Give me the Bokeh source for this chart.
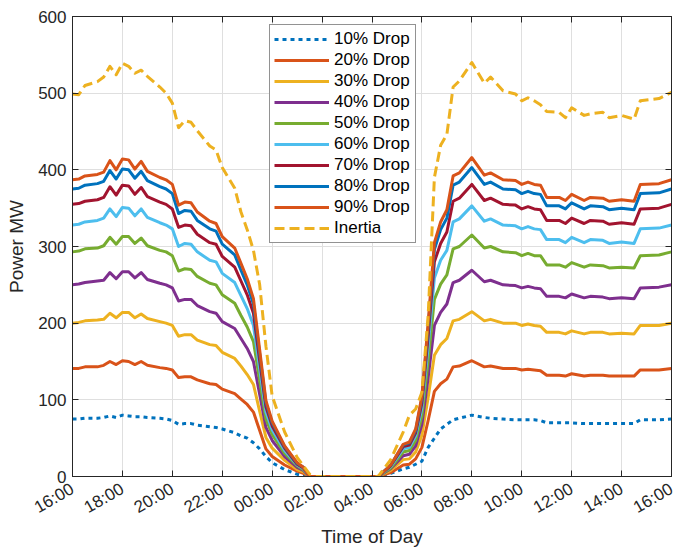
import math
from bokeh.plotting import figure
from bokeh.models import Range1d, FixedTicker, LinearAxis, Legend, LegendItem
from bokeh.embed import file_html
from bokeh.resources import INLINE

# hours since 16:00
hours = [0, 0.25, 0.5, 1.0, 1.25, 1.5, 1.75, 2.0, 2.25, 2.5,
         2.75, 3.0, 3.5, 3.75, 4.0, 4.25, 4.5, 4.75, 5.0, 5.5,
         5.75, 6.0, 6.5, 6.75, 7.0, 7.25, 7.5, 7.75, 8.0, 8.5,
         9.0, 9.25, 9.5, 9.75, 12.25,
         12.75, 13.25, 13.5, 13.75, 14.0, 14.25, 14.5, 14.75, 15.0, 15.25,
         15.5, 16.0, 16.5, 16.75, 17.25, 17.75, 18.0, 18.25, 18.5, 18.75,
         19.0, 19.5, 19.75, 20.0, 20.5, 20.75, 21.25, 21.5, 22.0, 22.5,
         22.75, 23.5, 24.0]

tick_hours = [0, 2, 4, 6, 8, 10, 12, 14, 16, 18, 20, 22, 24]
tick_labels = ["16:00", "18:00", "20:00", "22:00", "00:00", "02:00", "04:00",
               "06:00", "08:00", "10:00", "12:00", "14:00", "16:00"]
y_ticks = [0, 100, 200, 300, 400, 500, 600]

drop10 = [75, 75, 76, 76, 77, 79, 77, 80, 79, 78,
          78, 77, 76, 75, 73, 68, 69, 69, 67, 65,
          64, 62, 57, 53, 50, 44, 36, 26, 18, 9,
          3, 1, 0, 0, 0,
          4, 10, 12, 16, 20, 38, 50, 62, 68, 74,
          76, 80, 77, 76, 75, 74, 74, 74, 74, 73,
          70, 70, 70, 70, 69, 69, 69, 69, 69, 69,
          74, 74, 75]
drop20 = [141, 141, 143, 143, 145, 150, 146, 151, 150, 146,
          150, 145, 142, 141, 139, 129, 130, 130, 126, 121,
          120, 114, 108, 101, 94, 84, 60, 36, 26, 15,
          7, 4, 0, 0, 0,
          5, 15, 16, 23, 38, 73, 111, 121, 127, 143,
          144, 151, 143, 144, 141, 141, 139, 140, 139, 138,
          132, 132, 131, 134, 131, 132, 132, 131, 131, 131,
          139, 139, 141]
drop30 = [200, 201, 203, 204, 205, 213, 207, 214, 214, 207,
          212, 206, 202, 200, 197, 183, 185, 185, 178, 172,
          171, 162, 154, 144, 133, 120, 85, 51, 37, 21,
          9, 6, 0, 0, 0,
          8, 22, 23, 32, 54, 103, 158, 172, 180, 203,
          205, 215, 203, 205, 200, 200, 197, 199, 197, 196,
          188, 188, 186, 190, 186, 188, 188, 186, 187, 186,
          197, 197, 200]
drop40 = [250, 251, 253, 255, 256, 266, 258, 267, 267, 259,
          266, 257, 252, 250, 246, 229, 231, 231, 223, 215,
          213, 202, 193, 180, 167, 150, 107, 64, 47, 26,
          12, 8, 0, 0, 0,
          10, 27, 29, 40, 68, 129, 197, 214, 225, 253,
          256, 269, 254, 256, 250, 249, 246, 248, 246, 245,
          235, 235, 233, 238, 233, 235, 234, 232, 233, 232,
          246, 247, 250]
drop50 = [293, 294, 297, 298, 301, 312, 303, 313, 313, 304,
          311, 301, 295, 293, 288, 268, 271, 270, 261, 252,
          250, 237, 226, 210, 195, 176, 125, 75, 55, 30,
          14, 9, 0, 0, 0,
          11, 32, 34, 47, 79, 151, 231, 251, 263, 297,
          300, 315, 298, 300, 293, 292, 288, 291, 288, 288,
          276, 276, 273, 279, 273, 276, 275, 272, 273, 272,
          288, 289, 293]
drop60 = [328, 329, 332, 334, 337, 349, 339, 351, 350, 340,
          349, 338, 331, 328, 323, 300, 304, 303, 293, 282,
          280, 265, 253, 236, 219, 197, 140, 84, 61, 34,
          15, 10, 0, 0, 0,
          13, 36, 38, 53, 89, 170, 259, 282, 295, 332,
          336, 353, 333, 336, 328, 327, 323, 326, 323, 322,
          309, 309, 305, 312, 305, 309, 308, 304, 306, 304,
          323, 324, 328]
drop70 = [355, 356, 359, 361, 364, 378, 367, 380, 379, 368,
          377, 365, 358, 355, 349, 325, 328, 327, 316, 305,
          303, 287, 273, 255, 237, 213, 151, 91, 66, 37,
          16, 11, 0, 0, 0,
          14, 39, 41, 57, 96, 183, 280, 304, 319, 359,
          363, 381, 360, 363, 355, 354, 349, 352, 349, 348,
          334, 334, 330, 337, 330, 334, 333, 329, 331, 329,
          349, 350, 355]
drop80 = [375, 376, 380, 382, 385, 399, 388, 401, 400, 389,
          398, 386, 378, 375, 369, 343, 347, 346, 334, 323,
          320, 303, 289, 269, 250, 225, 160, 96, 70, 39,
          17, 12, 0, 0, 0,
          15, 41, 44, 60, 102, 194, 296, 322, 337, 380,
          384, 403, 381, 384, 375, 374, 369, 372, 369, 368,
          353, 353, 349, 357, 349, 353, 352, 348, 350, 348,
          369, 370, 375]
drop90 = [387, 388, 392, 394, 397, 412, 400, 414, 413, 401,
          411, 398, 390, 387, 381, 354, 358, 357, 345, 333,
          330, 313, 298, 278, 258, 232, 165, 99, 72, 40,
          18, 12, 0, 0, 0,
          15, 42, 45, 62, 105, 200, 305, 332, 348, 392,
          396, 416, 393, 396, 387, 386, 381, 384, 381, 380,
          364, 364, 360, 368, 360, 364, 363, 359, 361, 359,
          381, 382, 387]
inertia = [499, 498, 510, 515, 521, 535, 524, 539, 535, 526,
           530, 522, 508, 500, 487, 455, 464, 462, 451, 431,
           426, 403, 376, 345, 322, 295, 250, 170, 105, 58,
           25, 14, 3, 0, 0,
           22, 58, 80, 88, 110, 210, 390, 432, 446, 508,
           516, 540, 513, 521, 503, 499, 490, 494, 490, 485,
           476, 475, 468, 481, 471, 473, 475, 468, 471, 466,
           490, 493, 501]

series_names = ["10% Drop", "20% Drop", "30% Drop", "40% Drop", "50% Drop",
                "60% Drop", "70% Drop", "80% Drop", "90% Drop", "Inertia"]
series_values = [drop10, drop20, drop30, drop40, drop50,
                 drop60, drop70, drop80, drop90, inertia]
colors = ["#0072BD", "#D95319", "#EDB120", "#7E2F8E", "#77AC30",
          "#4DBEEE", "#A2142F", "#0072BD", "#D95319", "#EDB120"]
dashes = ["4 4", "solid", "solid", "solid", "solid",
          "solid", "solid", "solid", "solid", "10 5"]

FONT = "Liberation Sans"
DARK = "#262626"

p = figure(width=679, height=550, output_backend="svg", toolbar_location=None,
           x_range=Range1d(0, 24), y_range=Range1d(0, 600),
           min_border_left=72, min_border_right=8, min_border_top=16,
           min_border_bottom=74)
p.background_fill_color = "white"
p.border_fill_color = "white"
p.outline_line_color = DARK
p.outline_line_width = 1
p.outline_line_alpha = 1

renderers = []
for vals, col, dash in zip(series_values, colors, dashes):
    r = p.line(hours, vals, line_color=col, line_width=3, line_dash=dash,
               line_join="round")
    renderers.append(r)

xt = FixedTicker(ticks=tick_hours)
yt = FixedTicker(ticks=y_ticks)

xa = p.xaxis[0]
xa.ticker = xt
xa.major_label_overrides = {t: l for t, l in zip(tick_hours, tick_labels)}
xa.major_label_orientation = math.radians(30)
xa.axis_label = "Time of Day"
ya = p.yaxis[0]
ya.ticker = yt
ya.axis_label = "Power MW"

for ax in (xa, ya):
    ax.axis_line_color = DARK
    ax.major_tick_line_color = DARK
    ax.major_tick_in = 6
    ax.major_tick_out = 0
    ax.minor_tick_line_color = None
    ax.major_label_text_font = FONT
    ax.major_label_text_font_size = "17px"
    ax.major_label_text_color = DARK
    ax.axis_label_text_font = FONT
    ax.axis_label_text_font_size = "19px"
    ax.axis_label_text_font_style = "normal"
    ax.axis_label_text_color = DARK
ya.major_label_standoff = 6
ya.axis_label_standoff = 8
xa.major_label_standoff = 11
xa.axis_label_standoff = -2

top_ax = LinearAxis(ticker=FixedTicker(ticks=tick_hours),
                    major_label_overrides={t: "" for t in tick_hours})
right_ax = LinearAxis(ticker=FixedTicker(ticks=y_ticks),
                      major_label_overrides={t: "" for t in y_ticks})
for ax in (top_ax, right_ax):
    ax.axis_line_color = DARK
    ax.major_tick_line_color = DARK
    ax.major_tick_in = 6
    ax.major_tick_out = 0
    ax.minor_tick_line_color = None
    ax.major_label_text_font_size = "0px"
    ax.major_label_standoff = 0
p.add_layout(top_ax, "above")
p.add_layout(right_ax, "right")

p.xgrid.ticker = xt
p.ygrid.ticker = yt
p.xgrid.grid_line_color = "#dfdfdf"
p.ygrid.grid_line_color = "#dfdfdf"
p.xgrid.grid_line_width = 1
p.ygrid.grid_line_width = 1

legend = Legend(items=[LegendItem(label=n, renderers=[r])
                       for n, r in zip(series_names, renderers)],
                location=(197, 233))
legend.label_text_font = FONT
legend.label_text_font_size = "17px"
legend.label_text_color = "black"
legend.glyph_width = 55
legend.glyph_height = 20
legend.label_height = 20
legend.label_width = 77
legend.label_standoff = 5
legend.spacing = 1
legend.padding = 4
legend.margin = 0
legend.border_line_color = DARK
legend.border_line_width = 1
legend.background_fill_color = "white"
legend.background_fill_alpha = 1
p.add_layout(legend)

open("out.html", "w").write(file_html(p, INLINE))
